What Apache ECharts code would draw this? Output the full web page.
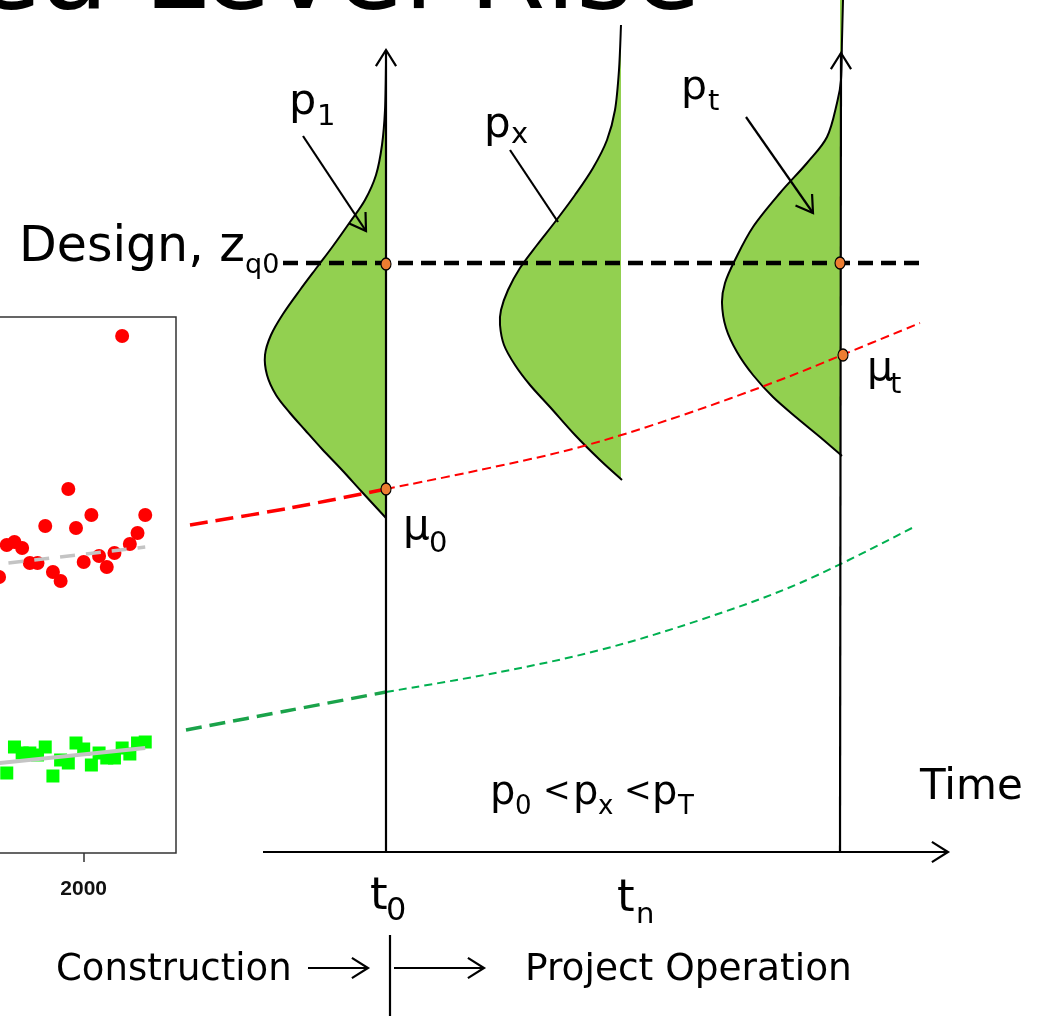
<!DOCTYPE html>
<html><head><meta charset="utf-8">
<script src="https://cdn.jsdelivr.net/npm/echarts/dist/echarts.min.js"></script>
<style>html,body{margin:0;padding:0;background:#fff}#main{width:1056px;height:1016px}</style>
</head><body><div id="main"></div>
<script>
// ---------- Inset scatter (observed annual maxima) ----------
const insetYears = ['1960','1961','1962','1963','1964','1965','1966','1967','1968','1969','1970','1971','1972','1973','1974','1975','1976','1977','1978','1979','1980','1981','1982','1983','1984','1985','1986','1987','1988','1989','1990','1991','1992','1993','1994','1995','1996','1997','1998','1999','2000','2001','2002','2003','2004','2005','2006','2007','2008','2009','2010','2011','2012'];
const insetTickLabels = ['1960','1980','2000'];
const redYears   = ['1989','1990','1991','1992','1993','1994','1995','1996','1997','1998','1999','2000','2001','2002','2003','2004','2005','2006','2007','2008'];
const redLevels  = [2.76,3.08,3.11,3.05,2.90,2.90,3.27,2.81,2.72,3.64,3.25,2.91,3.38,2.97,2.86,3.00,5.17,3.09,3.20,3.38];
const greenYears = ['1990','1991','1992','1993','1994','1995','1996','1997','1998','1999','2000','2001','2002','2003','2004','2005','2006','2007','2008'];
const greenLevels= [0.80,1.06,1.00,1.00,0.98,1.06,0.77,0.93,0.90,1.10,1.04,0.88,1.00,0.95,0.95,1.05,0.99,1.10,1.11];
const redTrend   = [['1960',2.63],['2008',3.06]];
const greenTrend = [['1960',0.67],['2008',1.05]];

// ---------- Schematic diagram (x = time units, y = level units) ----------
const axisT0 = 0, axisTx = 23.5, axisTT = 45.4;
const designLevel = 58.9, designFrom = -10.3, designTo = 53.4;
const meanRedPast   = [[-19.6,32.7],[-9.6,34.4],[0,36.3]];
const meanRedFuture = [[0,36.3],[9.4,38.2],[19.4,40.5],[29.4,43.6],[39.4,47.2],[45.6,49.7],[53.4,52.9]];
const meanGreenPast   = [[-20,12.2],[-10,14.1],[0,16.0]];
const meanGreenFuture = [[0,16.0],[11.4,18.0],[21.4,20.2],[31.4,23.2],[41.4,26.9],[52.6,32.4]];
const dist1 = [[0,78.7],[-0.1,74.2],[-0.4,70.7],[-1.0,67.7],[-2.1,65.2],[-3.6,63.0],[-5.3,60.6],[-6.8,58.6],[-8.6,56.2],[-10.3,53.8],[-11.5,51.7],[-12.1,49.7],[-11.9,47.7],[-11.0,45.7],[-9.6,43.9],[-8.1,42.2],[-6.4,40.3],[-4.4,38.2],[-2.4,36.0],[0,33.4]];
const distX = [[23.5,82.7],[23.3,78.2],[22.9,74.2],[22.1,71.2],[20.7,68.4],[18.9,65.7],[16.9,63.0],[15.1,60.7],[13.4,58.4],[12.2,56.2],[11.5,54.2],[11.4,52.7],[11.8,50.7],[12.9,48.7],[14.4,46.7],[16.4,44.5],[18.9,41.7],[21.4,39.2],[23.6,37.2]];
const distT = [[45.7,85.2],[45.6,81.2],[45.5,77.2],[45.1,74.9],[44.1,71.5],[42.1,68.9],[39.4,65.9],[36.7,62.5],[34.9,59.2],[33.9,56.9],[33.6,54.9],[34.0,52.4],[35.1,50.0],[36.7,47.7],[38.7,45.5],[41.1,43.4],[43.4,41.5],[45.6,39.6]];
const levelMarkers = [[0,58.8],[0,36.3],[45.4,58.9],[45.7,49.7]];
// arrows [x1,y1,x2,y2] (head at second point)
const arrowSegs = [[-12.3,0,56.2,0],[0,0,0,80.2],[45.4,0,45.5,79.9],[-8.3,71.6,-2.0,62.1],[36.0,73.5,42.7,63.9],[-7.8,-11.6,-1.8,-11.6],[0.8,-11.6,9.8,-11.6]];
const plainSegs = [[12.4,70.2,17.2,63.0],[0.4,-8.3,0.4,-16.4]];

const FONT = '"DejaVu Sans", Verdana, sans-serif';
function t(text, x, base, fs, align) {
  return {type:'text', x:x, y:base - 0.297*fs, z:100,
    style:{text:text, font: fs+'px '+FONT, fill:'#000', align:align||'left', verticalAlign:'middle', textAlign:align||'left', textVerticalAlign:'middle'}};
}
const labels = [
  t('Sea Level Rise', 701, 12, 110, 'right'),
  t('Design, z', 19, 263, 49), t('q0', 245, 274, 27),
  t('p', 289, 116, 43), t('1', 317, 126, 29),
  t('p', 484, 139, 42), t('x', 511, 144, 29),
  t('p', 681, 101, 41), t('t', 708, 111, 29),
  t('μ', 403, 541, 42), t('0', 429, 553, 29),
  t('μ', 867, 382, 41), t('t', 890, 394, 29),
  t('t', 370, 911, 45), t('0', 386, 921, 32),
  t('t', 617, 913, 45), t('n', 636, 924, 29),
  t('p', 490, 805, 40), t('0', 515, 815, 26), t('<', 543, 802, 33),
  t('p', 573, 805, 40), t('x', 598, 815, 26), t('<', 624, 802, 33),
  t('p', 652, 805, 40), t('T', 678, 815, 26),
  t('Time', 920, 801, 42),
  t('Construction', 56, 981, 37),
  t('Project Operation', 525, 981, 37.5)
];

function smoothPath(pts) {
  let d = 'M' + pts[0][0] + ' ' + pts[0][1];
  for (let i = 0; i < pts.length - 1; i++) {
    const p0 = pts[Math.max(i-1,0)], p1 = pts[i], p2 = pts[i+1], p3 = pts[Math.min(i+2,pts.length-1)];
    const c1x = p1[0] + (p2[0]-p0[0])/6, c1y = p1[1] + (p2[1]-p0[1])/6;
    const c2x = p2[0] - (p3[0]-p1[0])/6, c2y = p2[1] - (p3[1]-p1[1])/6;
    d += ' C' + c1x + ' ' + c1y + ' ' + c2x + ' ' + c2y + ' ' + p2[0] + ' ' + p2[1];
  }
  return d;
}
function distSeries(points, axisX) {
  return {
    type:'custom', xAxisIndex:1, yAxisIndex:1, z:1, silent:true, data: points,
    renderItem: function (params, api) {
      if (params.dataIndex !== 0) return null;
      const px = points.map(p => api.coord(p));
      const ax = api.coord([axisX, 0])[0];
      const curve = smoothPath(px);
      const fill = curve + ' L' + ax + ' ' + px[px.length-1][1] + ' L' + ax + ' ' + px[0][1] + ' Z';
      return {type:'group', children:[
        {type:'path', shape:{pathData: fill}, style:{fill:'#92d050', stroke:null}},
        {type:'path', shape:{pathData: curve}, style:{fill:null, stroke:'#000', lineWidth:2}}
      ]};
    }
  };
}
function segSeries(segs, head) {
  return {
    type:'custom', xAxisIndex:1, yAxisIndex:1, z:4, silent:true, data: segs,
    renderItem: function (params, api) {
      const a = api.coord([api.value(0), api.value(1)]);
      const b = api.coord([api.value(2), api.value(3)]);
      const kids = [{type:'line', shape:{x1:a[0],y1:a[1],x2:b[0],y2:b[1]}, style:{stroke:'#000', lineWidth:2.2}}];
      if (head) {
        const ang = Math.atan2(b[1]-a[1], b[0]-a[0]), L = 19, h = 0.56;
        kids.push({type:'polyline', shape:{points:[
          [b[0]-L*Math.cos(ang-h), b[1]-L*Math.sin(ang-h)], [b[0],b[1]],
          [b[0]-L*Math.cos(ang+h), b[1]-L*Math.sin(ang+h)]]},
          style:{stroke:'#000', lineWidth:2.2, fill:null}});
      }
      return {type:'group', children:kids};
    }
  };
}
function dashed(data, color, width, dash) {
  return {type:'line', xAxisIndex:1, yAxisIndex:1, z:2, data:data, smooth:0.35, symbol:'none', silent:true,
    lineStyle:{color:color, width:width, type:dash}};
}
const isTickYear = (idx, val) => insetTickLabels.indexOf(String(val)) >= 0;

const option = {
  animation:false,
  backgroundColor:'#fff',
  grid:[
    {left:-224, top:317, width:400, height:536, show:true, borderColor:'#333', borderWidth:1.5, backgroundColor:'transparent', containLabel:false, outerBoundsMode:'none'},
    {left:0, top:0, width:1056, height:1016, show:false, containLabel:false, outerBoundsMode:'none'}
  ],
  xAxis:[
    {gridIndex:0, type:'category', data:insetYears, boundaryGap:false,
     axisLine:{show:false}, splitLine:{show:false},
     axisTick:{show:true, length:9, interval:isTickYear, lineStyle:{color:'#333', width:1.5}},
     axisLabel:{show:true, margin:26, fontSize:21, fontWeight:'bold', fontFamily:'"Liberation Sans", Arial, sans-serif', color:'#111',
       interval:isTickYear}},
    {gridIndex:1, type:'value', min:-38.6, max:67.0, show:false}
  ],
  yAxis:[
    {gridIndex:0, type:'value', min:0, max:5.36, show:false},
    {gridIndex:1, type:'value', min:-16.4, max:85.2, show:false}
  ],
  graphic: labels,
  series:[
    {type:'line', xAxisIndex:0, yAxisIndex:0, data:redTrend, symbol:'none', silent:true, z:2,
     lineStyle:{color:'#c4c4c4', width:3.5, type:[15,11]}},
    {type:'line', xAxisIndex:0, yAxisIndex:0, data:greenTrend, symbol:'none', silent:true, z:2,
     lineStyle:{color:'#c4c4c4', width:4}},
    {type:'scatter', xAxisIndex:0, yAxisIndex:0, symbol:'rect', symbolSize:13, z:1,
     itemStyle:{color:'#00ff00', opacity:1}, data: greenYears.map((y,i)=>[y, greenLevels[i]])},
    {type:'scatter', xAxisIndex:0, yAxisIndex:0, symbol:'circle', symbolSize:14, z:1,
     itemStyle:{color:'#ff0000', opacity:1}, data: redYears.map((y,i)=>[y, redLevels[i]])},

    distSeries(dist1, axisT0),
    distSeries(distX, axisTx),
    distSeries(distT, axisTT),

    dashed(meanRedPast, '#ff0000', 3.5, [18,8]),
    dashed(meanRedFuture, '#ff0000', 2, [9,5]),
    dashed(meanGreenPast, '#1aa34a', 3.5, [16,8]),
    dashed(meanGreenFuture, '#00b050', 2, [8,5]),
    {type:'line', xAxisIndex:1, yAxisIndex:1, z:3, symbol:'none', silent:true,
     data:[[designFrom, designLevel],[designTo, designLevel]],
     lineStyle:{color:'#000', width:4.5, type:[15,8]}},

    segSeries(arrowSegs, true),
    segSeries(plainSegs, false),

    {type:'scatter', xAxisIndex:1, yAxisIndex:1, z:6, symbol:'circle', symbolSize:[10,12], silent:true,
     itemStyle:{color:'#ed7d31', borderColor:'#000', borderWidth:1.2, opacity:1}, data: levelMarkers}
  ]
};
const chart = echarts.init(document.getElementById('main'));
chart.setOption(option);
</script></body></html>
